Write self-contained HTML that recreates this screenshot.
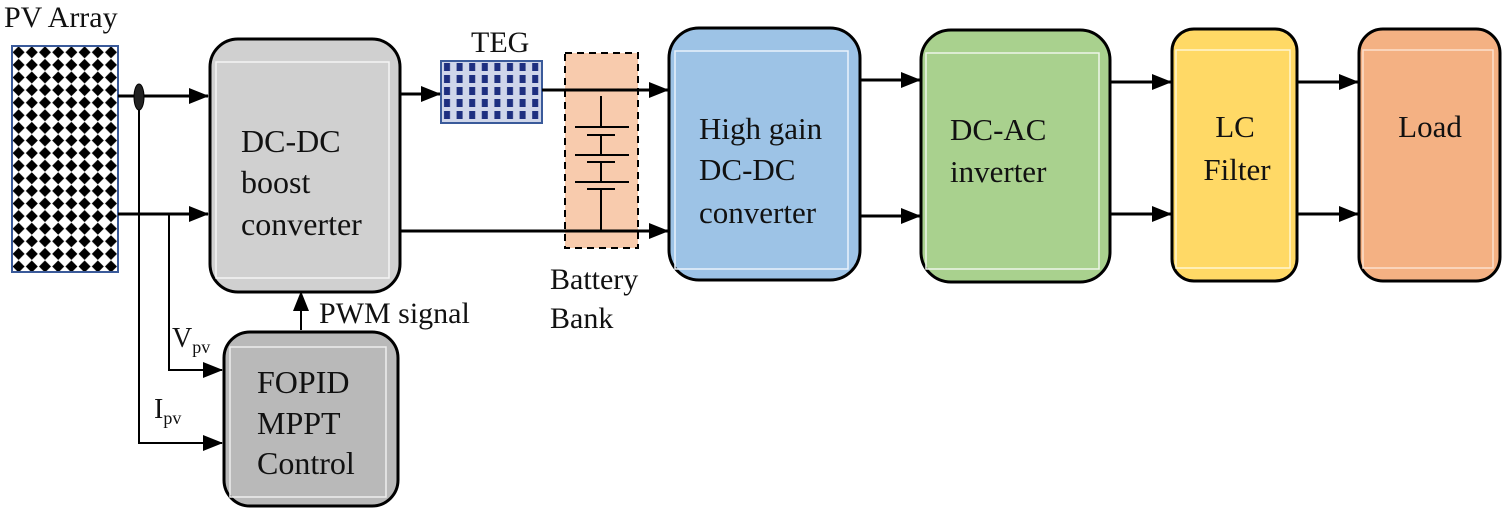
<!DOCTYPE html>
<html><head><style>
html,body{margin:0;padding:0;background:#fff;width:1504px;height:514px;overflow:hidden}
svg text{font-family:"Liberation Serif","Times New Roman",serif !important;fill:#111}
</style></head><body>
<svg width="1504" height="514" viewBox="0 0 1504 514" xmlns="http://www.w3.org/2000/svg" font-family="Liberation Serif, serif">
<defs>
<pattern id="dia" x="12" y="46" width="13.2" height="12.6" patternUnits="userSpaceOnUse">
<rect width="13.2" height="12.6" fill="#fff"/>
<polygon points="6.6,0.3 12.6,6.3 6.6,12.3 0.6,6.3" fill="#000"/>
</pattern>
<pattern id="teg" x="441" y="61" width="12.6" height="12" patternUnits="userSpaceOnUse">
<rect width="12.6" height="12" fill="#cfd6ea"/>
<rect x="3" y="2" width="6" height="8" fill="#1d2f80"/>
</pattern>
<marker id="ab" viewBox="0 0 20 16" markerWidth="20" markerHeight="16" refX="19" refY="8" orient="auto" markerUnits="userSpaceOnUse">
<polygon points="0,0 20,8 0,16" fill="#000"/>
</marker>
</defs>

<text x="4" y="27" font-size="30">PV Array</text>
<rect x="12" y="46" width="106" height="226" fill="url(#dia)" stroke="#3a5a9a" stroke-width="2"/>

<g stroke="#000" stroke-width="3" fill="none">
<line x1="118" y1="96" x2="208" y2="96" marker-end="url(#ab)"/>
<line x1="118" y1="214" x2="208" y2="214" marker-end="url(#ab)"/>
<polyline points="139,96 139,443 222,443" marker-end="url(#ab)" stroke-width="2"/>
<polyline points="169,214 169,370 222,370" marker-end="url(#ab)" stroke-width="2"/>
<line x1="301" y1="330" x2="301" y2="292" marker-end="url(#ab)" stroke-width="2"/>
</g>
<ellipse cx="139" cy="97" rx="5" ry="13" fill="#222" stroke="#000"/>

<rect x="210" y="39" width="190" height="253" rx="28" fill="#d0d0d0" stroke="#000" stroke-width="3"/>
<rect x="216" y="62" width="173" height="216" fill="none" stroke="#f4f4f4" stroke-width="1.5"/>
<text x="241" y="152" font-size="32">DC-DC</text>
<text x="241" y="193" font-size="32">boost</text>
<text x="241" y="235" font-size="32">converter</text>

<rect x="224" y="332" width="174" height="174" rx="26" fill="#b9b9b9" stroke="#000" stroke-width="3"/>
<rect x="230" y="347" width="156" height="150" fill="none" stroke="#eee" stroke-width="1.5"/>
<text x="257" y="393" font-size="32">FOPID</text>
<text x="257" y="434" font-size="32">MPPT</text>
<text x="257" y="474" font-size="32">Control</text>

<text x="319" y="323" font-size="30">PWM signal</text>
<text x="172" y="347" font-size="28">V<tspan font-size="18" dy="6">pv</tspan></text>
<text x="154" y="418" font-size="28">I<tspan font-size="18" dy="6">pv</tspan></text>

<text x="471" y="52" font-size="30">TEG</text>
<rect x="441" y="61" width="101" height="62" fill="url(#teg)" stroke="#3a5a9a" stroke-width="2"/>

<rect x="565" y="53" width="73" height="195" fill="#f8cbad" stroke="#000" stroke-width="2" stroke-dasharray="7,5"/>
<g stroke="#000" stroke-width="2">
<line x1="601" y1="96" x2="601" y2="127"/>
<line x1="601" y1="135" x2="601" y2="155"/>
<line x1="601" y1="162" x2="601" y2="182"/>
<line x1="601" y1="189" x2="601" y2="231"/>
<line x1="575" y1="127" x2="629" y2="127"/><line x1="587" y1="135" x2="615" y2="135"/>
<line x1="575" y1="155" x2="629" y2="155"/><line x1="587" y1="162" x2="615" y2="162"/>
<line x1="575" y1="182" x2="629" y2="182"/><line x1="587" y1="189" x2="615" y2="189"/>
</g>
<text x="550" y="289" font-size="30">Battery</text>
<text x="550" y="328" font-size="30">Bank</text>

<g stroke="#000" stroke-width="3" fill="none">
<line x1="400" y1="94" x2="440" y2="94" marker-end="url(#ab)"/>
<line x1="542" y1="90" x2="668" y2="90" marker-end="url(#ab)"/>
<line x1="400" y1="231" x2="668" y2="231" marker-end="url(#ab)"/>
<line x1="860" y1="80" x2="920" y2="80" marker-end="url(#ab)"/>
<line x1="860" y1="216" x2="920" y2="216" marker-end="url(#ab)"/>
<line x1="1110" y1="82" x2="1171" y2="82" marker-end="url(#ab)"/>
<line x1="1110" y1="214" x2="1171" y2="214" marker-end="url(#ab)"/>
<line x1="1297" y1="82" x2="1358" y2="82" marker-end="url(#ab)"/>
<line x1="1297" y1="214" x2="1358" y2="214" marker-end="url(#ab)"/>
</g>

<rect x="669" y="28" width="191" height="252" rx="30" fill="#9dc3e6" stroke="#000" stroke-width="3"/>
<rect x="675" y="51" width="173" height="218" fill="none" stroke="#eaf2fb" stroke-width="1.5"/>
<text x="699" y="139" font-size="31">High gain</text>
<text x="699" y="180" font-size="31">DC-DC</text>
<text x="699" y="223" font-size="31">converter</text>

<rect x="921" y="30" width="189" height="252" rx="30" fill="#a9d18e" stroke="#000" stroke-width="3"/>
<rect x="926" y="53" width="173" height="216" fill="none" stroke="#eef6e8" stroke-width="1.5"/>
<text x="950" y="140" font-size="31">DC-AC</text>
<text x="950" y="182" font-size="31">inverter</text>

<rect x="1172" y="29" width="125" height="252" rx="22" fill="#ffd966" stroke="#000" stroke-width="3"/>
<rect x="1176" y="50" width="114" height="218" fill="none" stroke="#fff6d0" stroke-width="1.5"/>
<text x="1235" y="137" font-size="31" text-anchor="middle">LC</text>
<text x="1237" y="180" font-size="31" text-anchor="middle">Filter</text>

<rect x="1359" y="29" width="141" height="252" rx="24" fill="#f4b183" stroke="#000" stroke-width="3"/>
<rect x="1363" y="50" width="130" height="218" fill="none" stroke="#fbe0cd" stroke-width="1.5"/>
<text x="1430" y="137" font-size="31" text-anchor="middle">Load</text>
</svg>
</body></html>
